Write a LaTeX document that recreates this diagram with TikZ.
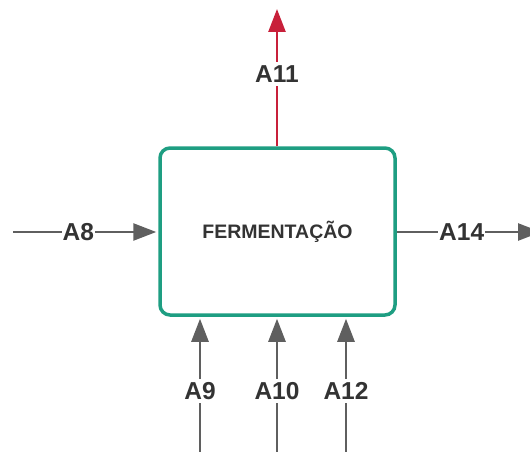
\documentclass[tikz,border=0pt]{standalone}
\usepackage{fontspec}
\setmainfont{Liberation Sans}
\usetikzlibrary{arrows.meta}
\definecolor{boxgreen}{HTML}{1E9E82}
\definecolor{flowgray}{HTML}{5F5F5F}
\definecolor{outred}{HTML}{C8203A}
\definecolor{txt}{HTML}{333333}
\begin{document}
\begin{tikzpicture}[x=1pt,y=-1pt,
  process/.style={draw=boxgreen, line width=3.5pt, rounded corners=10pt, fill=white,
    minimum width=235pt, minimum height=167pt, inner sep=0pt,
    font=\bfseries\fontsize{19.5}{21}\selectfont, text=txt},
  flow/.style={draw=flowgray, line width=2.6pt, -{Triangle[length=23pt,width=17pt]}},
  outflow/.style={flow, draw=outred, -{Triangle[length=23pt,width=17pt,fill=outred]}},
  lbl/.style={fill=white, inner xsep=1pt, inner ysep=3.5pt, text=txt,
    font=\bfseries\fontsize{24.5}{26}\selectfont}]
\useasboundingbox (0,0) rectangle (530,452);
% process box
\node[process] (fer) at (277.5,231.5) {FERMENTAÇÃO};
% free ends of the flows
\coordinate (a8s) at (13,232);
\coordinate (a14e) at (541,232);
\coordinate (a11e) at (277,9);
\coordinate (a9s) at (200,460);
\coordinate (a10s) at (277,460);
\coordinate (a12s) at (346,460);
% input and output flows
\draw[flow, shorten >=2pt] (a8s) -- (a8s -| fer.west) node[lbl, pos=0.45] {A8};
\draw[flow] (fer.east |- a14e) -- (a14e) node[lbl, pos=0.45] {A14};
\draw[outflow] (fer.north -| a11e) -- (a11e) node[lbl, pos=0.525] {A11};
\draw[flow, shorten >=2pt] (a9s) -- (a9s |- fer.south) node[lbl, pos=0.48] {A9};
\draw[flow, shorten >=2pt] (a10s) -- (a10s |- fer.south) node[lbl, pos=0.48] {A10};
\draw[flow, shorten >=2pt] (a12s) -- (a12s |- fer.south) node[lbl, pos=0.48] {A12};
\end{tikzpicture}
\end{document}
